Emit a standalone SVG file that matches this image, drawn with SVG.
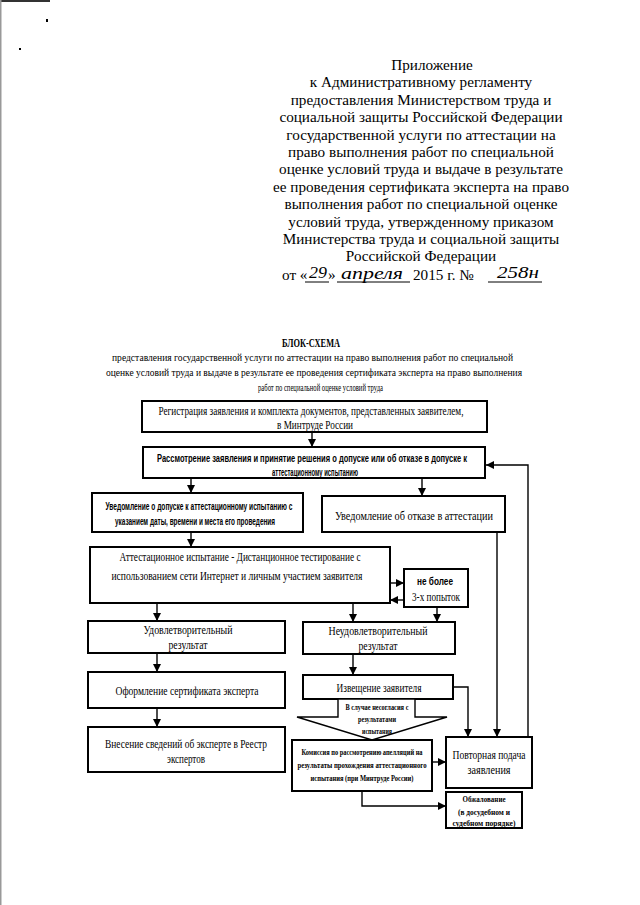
<svg xmlns="http://www.w3.org/2000/svg" width="640" height="905" viewBox="0 0 640 905">
<defs>
<marker id="ah" markerUnits="userSpaceOnUse" markerWidth="8" markerHeight="8" refX="8" refY="4" orient="auto">
<path d="M0,0 L8,4 L0,8 z" fill="#000"/>
</marker>
<style>
.hd{font-family:"Liberation Serif",serif;font-size:15.2px;fill:#000}
.hw{font-family:"Liberation Serif",serif;font-style:italic;font-size:17px;fill:#000}
.tt{font-family:"Liberation Serif",serif;font-size:11px;fill:#000}
.tb{font-family:"Liberation Serif",serif;font-size:11.5px;font-weight:bold;fill:#000}
.bx{fill:#fff;stroke:#000;stroke-width:2}
.t{font-family:"Liberation Serif",serif;font-size:12px;fill:#000;text-anchor:middle}
.s{font-family:"Liberation Sans",sans-serif;font-size:10.5px;font-weight:bold;fill:#000;text-anchor:middle}
.sm{font-family:"Liberation Serif",serif;font-size:9px;font-weight:bold;fill:#000;text-anchor:middle}
.c{fill:none;stroke:#000;stroke-width:1.4}
.ul{stroke:#000;stroke-width:1}
</style>
</defs>
<rect x="0" y="0" width="640" height="905" fill="#fff"/>
<rect x="0" y="0" width="50" height="2" fill="#333"/>
<rect x="0" y="0" width="1.5" height="905" fill="#999"/>
<rect x="46" y="19" width="2" height="3" fill="#000"/>
<rect x="19" y="48" width="2" height="2" fill="#000"/>

<g id="header">
<text class="hd" x="432" y="70" text-anchor="middle">Приложение</text>
<text class="hd" x="421" y="87.4" text-anchor="middle">к Административному регламенту</text>
<text class="hd" x="421" y="104.8" text-anchor="middle">предоставления Министерством труда и</text>
<text class="hd" x="421" y="122.2" text-anchor="middle">социальной защиты Российской Федерации</text>
<text class="hd" x="421" y="139.6" text-anchor="middle">государственной услуги по аттестации на</text>
<text class="hd" x="421" y="157" text-anchor="middle">право выполнения работ по специальной</text>
<text class="hd" x="421" y="174.4" text-anchor="middle">оценке условий труда и выдаче в результате</text>
<text class="hd" x="421" y="191.8" text-anchor="middle">ее проведения сертификата эксперта на право</text>
<text class="hd" x="421" y="209.2" text-anchor="middle">выполнения работ по специальной оценке</text>
<text class="hd" x="421" y="226.6" text-anchor="middle">условий труда, утвержденному приказом</text>
<text class="hd" x="421" y="244" text-anchor="middle">Министерства труда и социальной защиты</text>
<text class="hd" x="421" y="261.4" text-anchor="middle">Российской Федерации</text>
<text class="hd" x="282" y="280">от «</text>
<text class="hw" x="309" y="278" textLength="18" lengthAdjust="spacingAndGlyphs">29</text>
<line class="ul" x1="305" y1="282" x2="329" y2="282"/>
<text class="hd" x="328" y="280">»</text>
<text class="hw" x="341" y="279" textLength="62" lengthAdjust="spacingAndGlyphs">апреля</text>
<line class="ul" x1="337" y1="282" x2="410" y2="282"/>
<text class="hd" x="413" y="280">2015 г. №</text>
<text class="hw" x="497" y="278" textLength="42" lengthAdjust="spacingAndGlyphs">258н</text>
<line class="ul" x1="488" y1="282" x2="542" y2="282"/>
</g>

<g id="title">
<text class="tb" x="311" y="347" text-anchor="middle" textLength="58" lengthAdjust="spacingAndGlyphs">БЛОК-СХЕМА</text>
<text class="tt" x="112" y="361" textLength="401" lengthAdjust="spacingAndGlyphs">представления государственной услуги по аттестации на право выполнения работ по специальной</text>
<text class="tt" x="106" y="376" textLength="416" lengthAdjust="spacingAndGlyphs">оценке условий труда и выдаче в результате ее проведения сертификата эксперта на право выполнения</text>
<text class="tt" x="258" y="391" textLength="125" lengthAdjust="spacingAndGlyphs">работ по специальной оценке условий труда</text>
</g>

<g id="connectors">
<line class="c" x1="312" y1="432" x2="312" y2="447" marker-end="url(#ah)"/>
<line class="c" x1="191" y1="478" x2="191" y2="493" marker-end="url(#ah)"/>
<line class="c" x1="422" y1="478" x2="422" y2="496" marker-end="url(#ah)"/>
<line class="c" x1="191" y1="532" x2="191" y2="547" marker-end="url(#ah)"/>
<line class="c" x1="390" y1="583" x2="404" y2="583" marker-end="url(#ah)"/>
<line class="c" x1="404" y1="600" x2="390" y2="600" marker-end="url(#ah)"/>
<line class="c" x1="157" y1="603" x2="157" y2="621" marker-end="url(#ah)"/>
<line class="c" x1="353" y1="603" x2="353" y2="622" marker-end="url(#ah)"/>
<line class="c" x1="437" y1="607" x2="437" y2="622" marker-end="url(#ah)"/>
<line class="c" x1="157" y1="653" x2="157" y2="672" marker-end="url(#ah)"/>
<line class="c" x1="353" y1="654" x2="353" y2="675" marker-end="url(#ah)"/>
<line class="c" x1="157" y1="708" x2="157" y2="727" marker-end="url(#ah)"/>
<line class="c" x1="432" y1="762" x2="446" y2="762" marker-end="url(#ah)"/>
<polyline class="c" points="362,791 362,806 446,806" marker-end="url(#ah)"/>
<line class="c" x1="497" y1="532" x2="497" y2="737" marker-end="url(#ah)"/>
<polyline class="c" points="453,687 468,687 468,737" marker-end="url(#ah)"/>
<polyline class="c" points="528,737 528,465 486,465" marker-end="url(#ah)"/>
</g>

<g id="n1">
<rect class="bx" x="142" y="401" width="345" height="31"/>
<text class="t" x="311" y="415" textLength="305" lengthAdjust="spacingAndGlyphs">Регистрация заявления и комплекта документов, представленных заявителем,</text>
<text class="t" x="315" y="429" textLength="76" lengthAdjust="spacingAndGlyphs">в Минтруде России</text>
</g>
<g id="n2">
<rect class="bx" x="143" y="447" width="342" height="31"/>
<text class="s" x="312" y="462" textLength="310" lengthAdjust="spacingAndGlyphs">Рассмотрение заявления и принятие решения о допуске или об отказе в допуске к</text>
<text class="s" x="315" y="476" textLength="86" lengthAdjust="spacingAndGlyphs">аттестационному испытанию</text>
</g>
<g id="n3">
<rect class="bx" x="92" y="493" width="211" height="39"/>
<text class="s" transform="translate(199,510) scale(0.6,1)" textLength="311.7" lengthAdjust="spacingAndGlyphs">Уведомление о допуске к аттестационному испытанию с</text>
<text class="s" transform="translate(195,525) scale(0.6,1)" textLength="266.7" lengthAdjust="spacingAndGlyphs">указанием даты, времени и места его проведения</text>
</g>
<g id="n4">
<rect class="bx" x="322" y="496" width="183" height="36"/>
<text class="t" transform="translate(414,520) scale(0.8,1)" textLength="197.5" lengthAdjust="spacingAndGlyphs">Уведомление об отказе в аттестации</text>
</g>
<g id="n5">
<rect class="bx" x="90" y="547" width="300" height="56"/>
<text class="t" transform="translate(240,561) scale(0.72,1)" textLength="334.7" lengthAdjust="spacingAndGlyphs">Аттестационное испытание - Дистанционное тестирование с</text>
<text class="t" transform="translate(237,580) scale(0.7,1)" textLength="358.6" lengthAdjust="spacingAndGlyphs">использованием сети Интернет и личным участием заявителя</text>
</g>
<g id="n6">
<rect class="bx" x="404" y="569" width="64" height="38"/>
<text class="s" x="435" y="585" textLength="36" lengthAdjust="spacingAndGlyphs">не более</text>
<text class="t" x="436" y="601" textLength="48" lengthAdjust="spacingAndGlyphs">3-х попыток</text>
</g>
<g id="n7">
<rect class="bx" x="88" y="621" width="197" height="32"/>
<text class="t" x="188" y="634" textLength="89" lengthAdjust="spacingAndGlyphs">Удовлетворительный</text>
<text class="t" x="188" y="649" textLength="39" lengthAdjust="spacingAndGlyphs">результат</text>
</g>
<g id="n8">
<rect class="bx" x="303" y="622" width="152" height="32"/>
<text class="t" x="378" y="635" textLength="99" lengthAdjust="spacingAndGlyphs">Неудовлетворительный</text>
<text class="t" x="378" y="650" textLength="39" lengthAdjust="spacingAndGlyphs">результат</text>
</g>
<g id="n9">
<rect class="bx" x="88" y="672" width="197" height="36"/>
<text class="t" x="187" y="695" textLength="143" lengthAdjust="spacingAndGlyphs">Оформление сертификата эксперта</text>
</g>
<g id="n10">
<rect class="bx" x="303" y="675" width="150" height="24"/>
<text class="t" x="379" y="692" textLength="85" lengthAdjust="spacingAndGlyphs">Извещение заявителя</text>
</g>
<g id="n11">
<polygon points="338,699 338,717 297,717 372,740 447,717 415,717 415,699" fill="#fff" stroke="#000" stroke-width="1.4"/>
<text class="sm" x="377" y="710" textLength="63" lengthAdjust="spacingAndGlyphs">В случае несогласия с</text>
<text class="sm" x="377" y="722" textLength="38" lengthAdjust="spacingAndGlyphs">результатами</text>
<text class="sm" x="377" y="734" textLength="30" lengthAdjust="spacingAndGlyphs">испытания</text>
</g>
<g id="n12">
<rect class="bx" x="88" y="727" width="197" height="45"/>
<text class="t" x="186" y="748" textLength="162" lengthAdjust="spacingAndGlyphs">Внесение сведений об эксперте в Реестр</text>
<text class="t" x="186" y="763" textLength="38" lengthAdjust="spacingAndGlyphs">экспертов</text>
</g>
<g id="n13">
<rect class="bx" x="292" y="740" width="140" height="51"/>
<text class="sm" transform="translate(362,755) scale(0.7,1)" textLength="172.9" lengthAdjust="spacingAndGlyphs">Комиссия по рассмотрению апелляций на</text>
<text class="sm" transform="translate(362,768) scale(0.7,1)" textLength="184.3" lengthAdjust="spacingAndGlyphs">результаты прохождения аттестационного</text>
<text class="sm" transform="translate(362,781) scale(0.7,1)" textLength="147.1" lengthAdjust="spacingAndGlyphs">испытания (при Минтруде России)</text>
</g>
<g id="n14">
<rect class="bx" x="446" y="737" width="86" height="51"/>
<text class="t" transform="translate(489,759) scale(0.85,1)" textLength="85.9" lengthAdjust="spacingAndGlyphs">Повторная подача</text>
<text class="t" x="489" y="774" textLength="43" lengthAdjust="spacingAndGlyphs">заявления</text>
</g>
<g id="n15">
<rect class="bx" x="446" y="792" width="76" height="36"/>
<text class="sm" x="484" y="802" textLength="43" lengthAdjust="spacingAndGlyphs">Обжалование</text>
<text class="sm" x="484" y="815" textLength="52" lengthAdjust="spacingAndGlyphs">(в досудебном и</text>
<text class="sm" x="484" y="826" textLength="63" lengthAdjust="spacingAndGlyphs">судебном порядке)</text>
</g>
</svg>
